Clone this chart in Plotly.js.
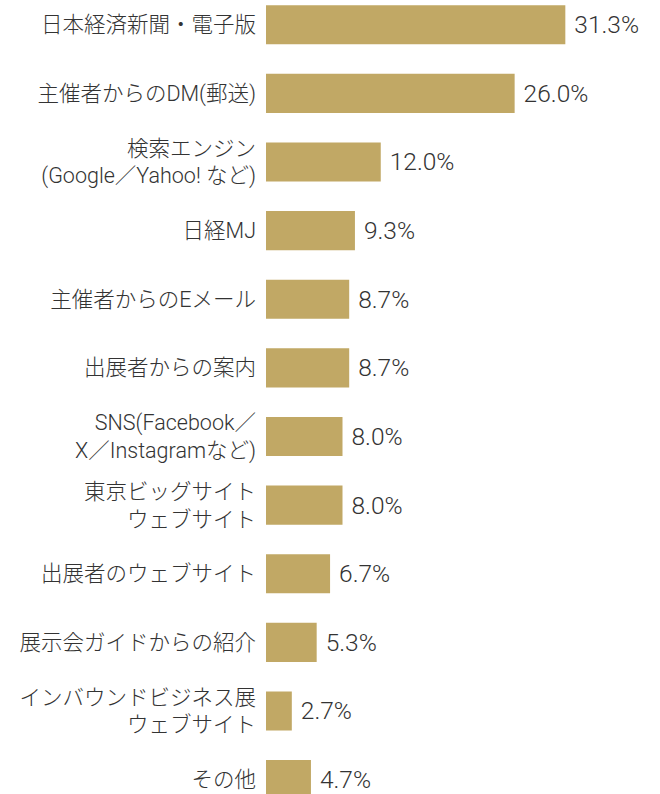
<!DOCTYPE html>
<html>
<head>
<meta charset="utf-8">
<script src="https://cdn.plot.ly/plotly-3.0.1.min.js"></script>
<style>
  html, body { margin: 0; padding: 0; background: #fff; }
  #chart { width: 660px; height: 794px; }
</style>
</head>
<body>
<div id="chart"></div>
<script>
// Chart data
const categories = [
    '日本経済新聞・電子版',
    '主催者からのDM(郵送)',
    '検索エンジン<br>(Google／Yahoo! など)',
    '日経MJ',
    '主催者からのEメール',
    '出展者からの案内',
    'SNS(Facebook／<br>X／Instagramなど)',
    '東京ビッグサイト<br>ウェブサイト',
    '出展者のウェブサイト',
    '展示会ガイドからの紹介',
    'インバウンドビジネス展<br>ウェブサイト',
    'その他'
];
const values = [31.3, 26.0, 12.0, 9.3, 8.7, 8.7, 8.0, 8.0, 6.7, 5.3, 2.7, 4.7];

const barColor = '#c1a865';
const textColor = '#333333';
const fontFamily = 'Roboto, "Noto Sans CJK JP", sans-serif';

const trace = {
    type: 'bar',
    orientation: 'h',
    x: values,
    y: categories,
    width: 0.57,
    marker: { color: barColor },
    texttemplate: '\u00a0%{x:.1f}%',
    textposition: 'outside',
    cliponaxis: false,
    textfont: { family: fontFamily, size: 24.5, color: textColor, weight: 300 },
    hoverinfo: 'skip'
};

const layout = {
    width: 660,
    height: 794,
    margin: { l: 266, r: 0, t: 0, b: 0 },
    paper_bgcolor: '#ffffff',
    plot_bgcolor: '#ffffff',
    showlegend: false,
    font: { family: fontFamily, color: textColor },
    xaxis: {
        range: [0, 41.2],
        visible: false,
        showgrid: false,
        zeroline: false
    },
    yaxis: {
        type: 'category',
        range: [11.21, -0.36],
        autorange: false,
        showgrid: false,
        zeroline: false,
        showline: false,
        ticks: '',
        ticklabelstandoff: 9,
        tickfont: { family: fontFamily, size: 21.5, color: textColor, weight: 300 }
    }
};

Plotly.newPlot('chart', [trace], layout, { staticPlot: true });
</script>
</body>
</html>
